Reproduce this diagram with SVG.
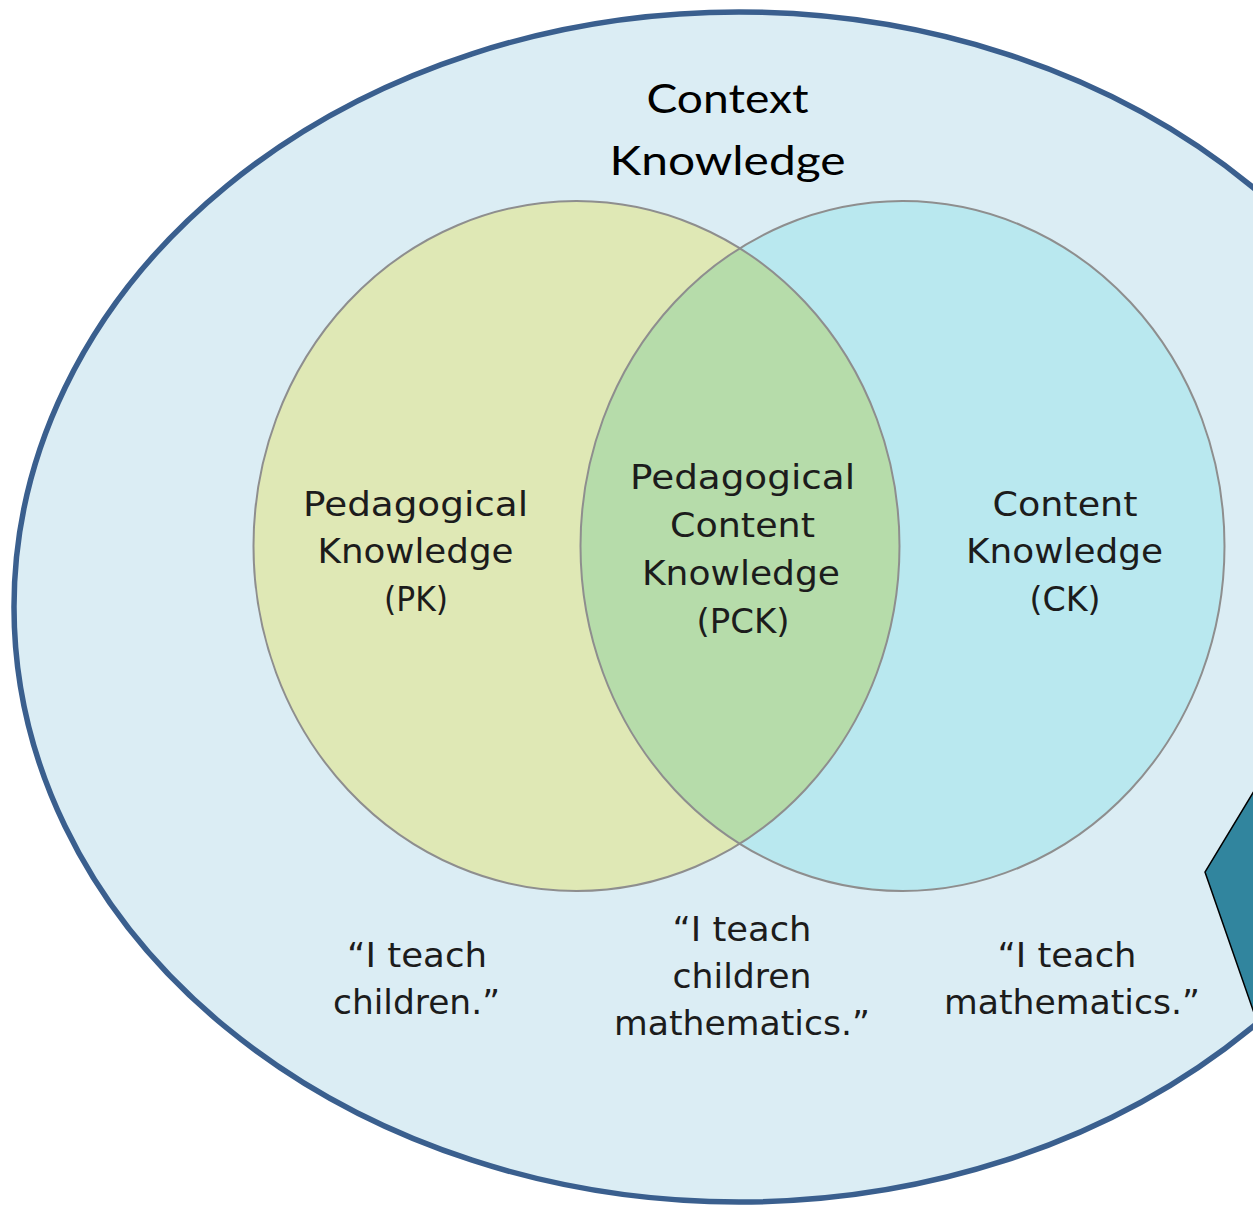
<svg xmlns="http://www.w3.org/2000/svg" width="1253" height="1205" viewBox="0 0 1253 1205">
  <style>
    .ring { stroke: #8e8e8e; stroke-width: 2; fill: none; }
    .lbl { font-family: "DejaVu Sans", "Liberation Sans", sans-serif; font-size: 34px; fill: #1c1c1c; text-anchor: middle; }
    .title { font-family: "Lato", "Liberation Sans", sans-serif; font-size: 40px; fill: #000; text-anchor: middle; }
  </style>
  <defs>
    <clipPath id="clipPK">
      <ellipse cx="576.5" cy="546" rx="323" ry="345"/>
    </clipPath>
  </defs>
  <rect width="1253" height="1205" fill="#ffffff"/>

  <g id="context">
    <ellipse cx="739" cy="607" rx="725" ry="595" fill="#dbedf4" stroke="#3a5f8e" stroke-width="5.5"/>
    <text class="title" x="727.5" y="113" textLength="162" lengthAdjust="spacingAndGlyphs">Context</text>
    <text class="title" x="727.5" y="175" textLength="236" lengthAdjust="spacingAndGlyphs">Knowledge</text>
  </g>

  <g id="pk">
    <ellipse cx="576.5" cy="546" rx="323" ry="345" fill="#dfe8b5"/>
    <text class="lbl" x="415.5" y="516" textLength="225" lengthAdjust="spacingAndGlyphs">Pedagogical</text>
    <text class="lbl" x="415.5" y="563" textLength="196" lengthAdjust="spacingAndGlyphs">Knowledge</text>
    <text class="lbl" x="416" y="611" textLength="64" lengthAdjust="spacingAndGlyphs">(PK)</text>
  </g>

  <g id="ck">
    <ellipse cx="902.5" cy="546" rx="322" ry="345" fill="#b9e8ef"/>
    <text class="lbl" x="1065" y="516" textLength="145" lengthAdjust="spacingAndGlyphs">Content</text>
    <text class="lbl" x="1064.5" y="563" textLength="197" lengthAdjust="spacingAndGlyphs">Knowledge</text>
    <text class="lbl" x="1065" y="611" textLength="71" lengthAdjust="spacingAndGlyphs">(CK)</text>
  </g>

  <g id="pck">
    <ellipse cx="902.5" cy="546" rx="322" ry="345" fill="#b6dcaa" clip-path="url(#clipPK)"/>
    <ellipse class="ring" cx="576.5" cy="546" rx="323" ry="345"/>
    <ellipse class="ring" cx="902.5" cy="546" rx="322" ry="345"/>
    <text class="lbl" x="742.5" y="489" textLength="225" lengthAdjust="spacingAndGlyphs">Pedagogical</text>
    <text class="lbl" x="742.5" y="537" textLength="145" lengthAdjust="spacingAndGlyphs">Content</text>
    <text class="lbl" x="741" y="585" textLength="198" lengthAdjust="spacingAndGlyphs">Knowledge</text>
    <text class="lbl" x="743" y="633" textLength="93" lengthAdjust="spacingAndGlyphs">(PCK)</text>
  </g>

  <g id="quote-pk">
    <text class="lbl" x="417" y="967" textLength="140" lengthAdjust="spacingAndGlyphs">“I teach</text>
    <text class="lbl" x="416.5" y="1014" textLength="167" lengthAdjust="spacingAndGlyphs">children.”</text>
  </g>
  <g id="quote-pck">
    <text class="lbl" x="742" y="941" textLength="139" lengthAdjust="spacingAndGlyphs">“I teach</text>
    <text class="lbl" x="742" y="988" textLength="139" lengthAdjust="spacingAndGlyphs">children</text>
    <text class="lbl" x="742" y="1035" textLength="256" lengthAdjust="spacingAndGlyphs">mathematics.”</text>
  </g>
  <g id="quote-ck">
    <text class="lbl" x="1067" y="967" textLength="139" lengthAdjust="spacingAndGlyphs">“I teach</text>
    <text class="lbl" x="1072" y="1014" textLength="256" lengthAdjust="spacingAndGlyphs">mathematics.”</text>
  </g>

  <g id="callout">
    <polygon points="1265,773 1205,872 1265,1044.5" fill="#31859e" stroke="#000" stroke-width="1.5" stroke-linejoin="miter"/>
  </g>

  <g id="connectors"/>
</svg>
